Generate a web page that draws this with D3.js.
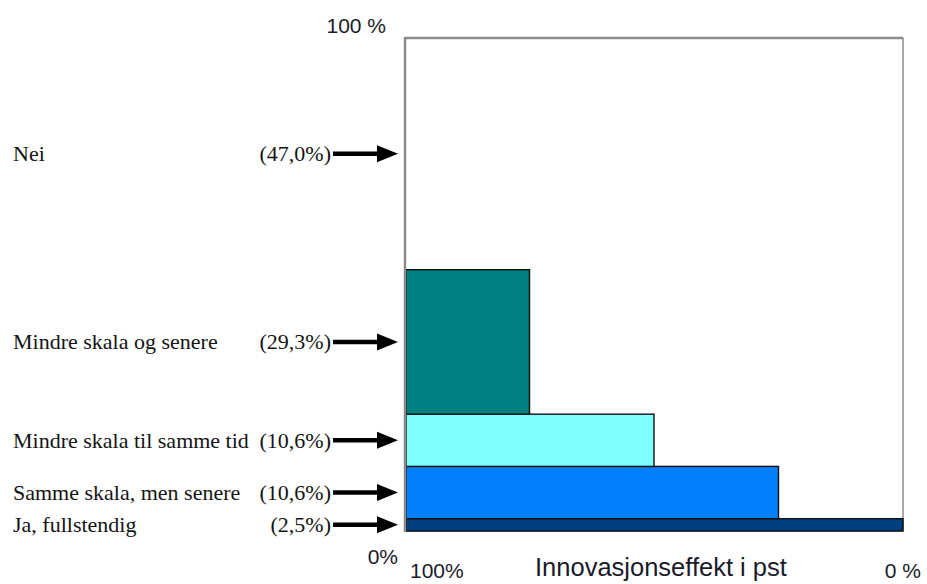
<html lang="no">
<head>
<meta charset="UTF-8">
<title>Innovasjonseffekt</title>
<style>
  body { margin: 0; background: #fff; }
  svg { display: block; }
  .lbl { font-family: "Liberation Serif", "Times New Roman", serif; font-size: 22px; fill: #141414; }
  .tick { font-family: "Liberation Sans", Arial, sans-serif; font-size: 21px; fill: #1a1a2a; }
</style>
</head>
<body>
<svg id="chart" width="927" height="584"></svg>
<script src="https://d3js.org/d3.v7.min.js"></script>
<script>
// data, bottom to top
const categories = ["Ja, fullstendig", "Samme skala, men senere", "Mindre skala til samme tid", "Mindre skala og senere", "Nei"];
const shares = [2.5, 10.6, 10.6, 29.3, 47.0];       // andel av foretakene, %
const effects = [100, 75, 50, 25, 0];               // innovasjonseffekt, %
const yTicks = [0, 100];
const yTickLabels = ["0%", "100 %"];
const xTicks = [100, 0];
const xTickLabels = ["100%", "0 %"];
const xTitle = "Innovasjonseffekt i pst";

const colors = ["#003f7f", "#0080ff", "#80ffff", "#008080", "#ffffff"];

const svg = d3.select("#chart");
const mLeft = 405, mRight = 903, mTop = 38, mBottom = 531;

// axis reads 100% at left, 0% at right; bar length = effect
const x = d3.scaleLinear().domain([100, 0]).range([mLeft, mRight]);
const len = d3.scaleLinear().domain([0, 100]).range([0, mRight - mLeft]);
const y = d3.scaleLinear().domain([0, 100]).range([mBottom, mTop]);

// cumulative stacking
let acc = 0;
const rows = categories.map((c, i) => {
  const r = { name: c, share: shares[i], effect: effects[i], y0: acc, y1: acc + shares[i], color: colors[i] };
  acc += shares[i];
  return r;
});

// frame
svg.append("rect")
  .attr("x", mLeft).attr("y", mTop)
  .attr("width", mRight - mLeft).attr("height", mBottom - mTop)
  .attr("fill", "#fff").attr("stroke", "#555").attr("stroke-width", 1);

// bars
svg.selectAll("rect.bar")
  .data(rows.filter(d => d.effect > 0))
  .join("rect")
  .attr("class", "bar")
  .attr("x", mLeft + 1)
  .attr("y", d => y(d.y1))
  .attr("width", d => len(d.effect) - 1)
  .attr("height", d => y(d.y0) - y(d.y1))
  .attr("fill", d => d.color)
  .attr("stroke", "#111").attr("stroke-width", 1.4);

// heavier gray left + top edge
svg.append("path")
  .attr("d", `M${mLeft},${mBottom + 1}V${mTop}H${mRight}`)
  .attr("fill", "none").attr("stroke", "#8a8a8a").attr("stroke-width", 2.5);

// labels + arrows
const fmt = v => "(" + d3.format(".1f")(v).replace(".", ",") + "%)";
const g = svg.selectAll("g.row").data(rows).join("g").attr("class", "row")
  .attr("transform", d => `translate(0,${y((d.y0 + d.y1) / 2)})`);

g.append("text").attr("class", "lbl")
  .attr("x", 13).attr("dy", "0.33em")
  .text(d => d.name);
g.append("text").attr("class", "lbl")
  .attr("x", 331).attr("text-anchor", "end").attr("dy", "0.33em")
  .text(d => fmt(d.share));
g.append("line")
  .attr("x1", 333).attr("x2", 380).attr("y1", 0).attr("y2", 0)
  .attr("stroke", "#000").attr("stroke-width", 4.5);
g.append("path")
  .attr("d", "M377,-8.5L398,0L377,8.5Z")
  .attr("fill", "#000");

// y tick labels
svg.selectAll("text.ytick").data(yTicks).join("text")
  .attr("class", "tick ytick")
  .attr("x", d => d === 0 ? 398 : 386)
  .attr("y", d => y(d) + (d === 100 ? -5 : 33))
  .attr("text-anchor", "end")
  .text((d, i) => yTickLabels[i]);

// x tick labels
svg.selectAll("text.xtick").data(xTicks).join("text")
  .attr("class", "tick xtick")
  .attr("x", d => d === 100 ? x(d) + 5 : x(d) + 18)
  .attr("y", mBottom + 47)
  .attr("text-anchor", d => d === 100 ? "start" : "end")
  .text((d, i) => xTickLabels[i]);

svg.append("text")
  .attr("class", "tick")
  .attr("x", 535)
  .attr("y", mBottom + 45)
  .style("font-size", "25.5px")
  .text(xTitle);
</script>
</body>
</html>
